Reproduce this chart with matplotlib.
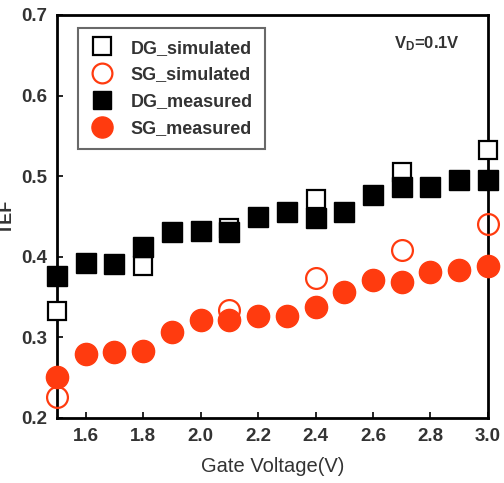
import matplotlib.pyplot as plt

plt.rcParams['font.family'] = ['Liberation Sans', 'DejaVu Sans']
plt.rcParams['mathtext.fontset'] = 'custom'
plt.rcParams['mathtext.bf'] = 'Liberation Sans:bold'
plt.rcParams['mathtext.rm'] = 'Liberation Sans'

# measured data (every 0.1 V)
vg_meas = [1.5, 1.6, 1.7, 1.8, 1.9, 2.0, 2.1, 2.2, 2.3, 2.4, 2.5, 2.6, 2.7, 2.8, 2.9, 3.0]
dg_meas = [0.376, 0.392, 0.391, 0.412, 0.430, 0.432, 0.430, 0.449, 0.456, 0.448,
           0.455, 0.477, 0.487, 0.487, 0.495, 0.495]
sg_meas = [0.251, 0.279, 0.282, 0.283, 0.307, 0.322, 0.322, 0.326, 0.326, 0.337,
           0.356, 0.371, 0.368, 0.381, 0.383, 0.389]

# simulated data
vg_sim = [1.5, 1.8, 2.1, 2.4, 2.7, 3.0]
dg_sim = [0.333, 0.388, 0.435, 0.472, 0.505, 0.532]
sg_sim = [0.226, None, 0.334, 0.374, 0.408, 0.441]

red = '#ff3b0f'
gray = '#333333'

fig = plt.figure(figsize=(5.04, 4.83), dpi=100)
ax = fig.add_axes([0.113, 0.135, 0.855, 0.834])

ax.plot(vg_sim, dg_sim, 's', ms=13, mfc='white', mec='black', mew=1.6,
        clip_on=False, zorder=3, label='DG_simulated')
sg_x = [v for v, s in zip(vg_sim, sg_sim) if s is not None]
sg_y = [s for s in sg_sim if s is not None]
ax.plot(sg_x, sg_y, 'o', ms=15, mfc='none', mec=red, mew=1.6,
        clip_on=False, zorder=5, label='SG_simulated')
ax.plot(vg_meas, dg_meas, 's', ms=14, color='black',
        clip_on=False, zorder=4, label='DG_measured')
ax.plot(vg_meas, sg_meas, 'o', ms=16, color=red,
        clip_on=False, zorder=4, label='SG_measured')

ax.set_xlim(1.5, 3.0)
ax.set_ylim(0.2, 0.7)
ax.set_xticks([1.6, 1.8, 2.0, 2.2, 2.4, 2.6, 2.8, 3.0])
ax.set_yticks([0.2, 0.3, 0.4, 0.5, 0.6, 0.7])
ax.tick_params(direction='in', length=4, width=1.2, labelsize=13.5,
               labelcolor=gray, pad=7)
for lbl in ax.get_xticklabels() + ax.get_yticklabels():
    lbl.set_fontweight('bold')
for sp in ax.spines.values():
    sp.set_linewidth(2)

ax.set_xlabel('Gate Voltage(V)', fontsize=14.5, color=gray, labelpad=9)
ax.set_ylabel('TEF', fontsize=13, color=gray, fontweight='bold', labelpad=4)

ax.text(0.935, 0.93, r'$\mathbf{V_D}$=0.1V', transform=ax.transAxes,
        ha='right', va='center', fontsize=12, fontweight='bold', color=gray)

leg = ax.legend(loc='upper left', bbox_to_anchor=(0.048, 0.968), borderaxespad=0,
                fontsize=13, frameon=True, fancybox=False, borderpad=0.65,
                labelspacing=0.55, handletextpad=0.9, handlelength=1.4,
                markerscale=0.95)
leg.get_frame().set_edgecolor('#444444')
leg.get_frame().set_linewidth(1.5)
for t in leg.get_texts():
    t.set_fontweight('bold')
    t.set_color(gray)

fig.savefig('out.png', dpi=100)
